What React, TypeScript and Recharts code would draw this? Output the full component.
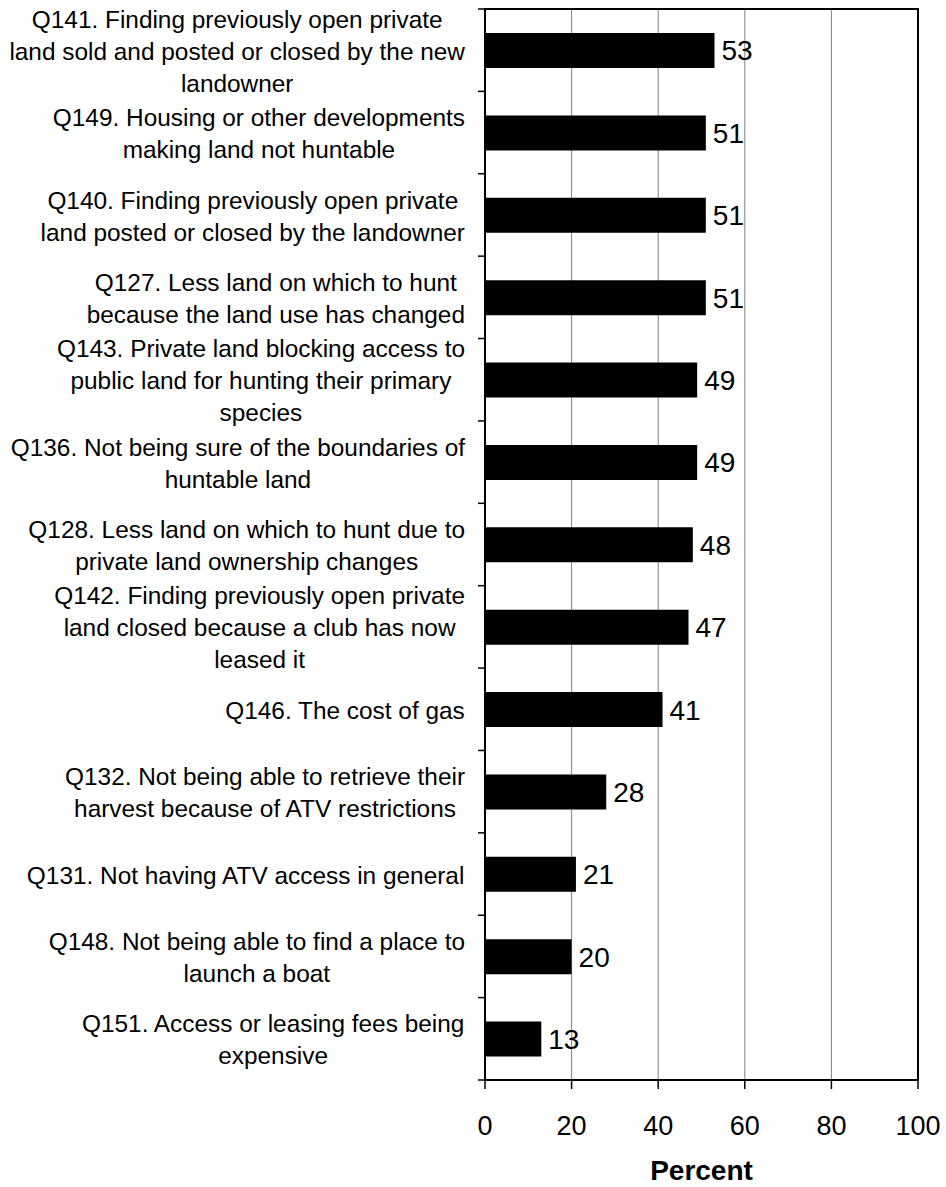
import { BarChart, Bar, XAxis, YAxis, CartesianGrid, LabelList, ReferenceArea } from "recharts"

const questions = [
  "Q141. Finding previously open private\nland sold and posted or closed by the new\nlandowner",
  "Q149. Housing or other developments\nmaking land not huntable",
  "Q140. Finding previously open private\nland posted or closed by the landowner",
  "Q127. Less land on which to hunt\nbecause the land use has changed",
  "Q143. Private land blocking access to\npublic land for hunting their primary\nspecies",
  "Q136. Not being sure of the boundaries of\nhuntable land",
  "Q128. Less land on which to hunt due to\nprivate land ownership changes",
  "Q142. Finding previously open private\nland closed because a club has now\nleased it",
  "Q146. The cost of gas",
  "Q132. Not being able to retrieve their\nharvest because of ATV restrictions",
  "Q131. Not having ATV access in general",
  "Q148. Not being able to find a place to\nlaunch a boat",
  "Q151. Access or leasing fees being\nexpensive",
]
const percents = [53, 51, 51, 51, 49, 49, 48, 47, 41, 28, 21, 20, 13]
const xTicks = [0, 20, 40, 60, 80, 100]

const data = questions.map((question, i) => ({ question, pct: percents[i] }))

const FONT = '"Liberation Sans", Arial, sans-serif'
const TOP = 9
const AXIS_W = 485
const LABEL_RIGHT = 465
const LINE_H = 32
const CAT_FONT = 24.4

let ctx: CanvasRenderingContext2D | null = null
function measure(s: string) {
  if (!ctx) {
    ctx = document.createElement("canvas").getContext("2d")
    if (ctx) ctx.font = `${CAT_FONT}px ${FONT}`
  }
  return ctx ? ctx.measureText(s).width : s.length * CAT_FONT * 0.5
}

// multi-line label, block right-aligned, lines centred (Excel style)
function CategoryTick(props: any) {
  const { y, payload, index } = props
  const lines = String(payload.value).split("\n")
  const step = (y - TOP) / (index + 0.5)
  const w = Math.max(...lines.map(measure))
  const cx = LABEL_RIGHT - w / 2
  const startY = y - ((lines.length - 1) * LINE_H) / 2 + 1
  return (
    <g>
      <line x1={AXIS_W - 7} x2={AXIS_W} y1={y - step / 2} y2={y - step / 2} stroke="#000" strokeWidth={1.5} />
      {index === questions.length - 1 && (
        <line x1={AXIS_W - 7} x2={AXIS_W} y1={y + step / 2} y2={y + step / 2} stroke="#000" strokeWidth={1.5} />
      )}
      <text textAnchor="middle" fontSize={CAT_FONT} fill="#000" fontFamily={FONT}>
        {lines.map((l, i) => (
          <tspan key={i} x={cx} y={startY + i * LINE_H} dy="0.35em">
            {l}
          </tspan>
        ))}
      </text>
    </g>
  )
}

export default function App() {
  return (
    <div style={{ position: "absolute", left: 0, top: 0, width: 946, height: 1187, background: "#fff", fontFamily: FONT }}>
      <BarChart
        width={946}
        height={1187}
        data={data}
        layout="vertical"
        margin={{ top: TOP, right: 28, left: 0, bottom: 1 }}
        barCategoryGap={0}
      >
        <CartesianGrid horizontal={false} stroke="#808080" strokeWidth={1} />
        <ReferenceArea x1={0} x2={100} fill="none" stroke="#000" strokeWidth={2} fillOpacity={0} ifOverflow="visible" />
        <XAxis
          type="number"
          domain={[0, 100]}
          ticks={xTicks}
          height={106}
          tickSize={9}
          tickMargin={27}
          tick={{ fill: "#000", fontSize: 27, fontFamily: FONT }}
          tickLine={{ stroke: "#000", strokeWidth: 1.5 }}
          axisLine={{ stroke: "#000", strokeWidth: 2 }}
          label={{ value: "Percent", position: "insideBottom", offset: 6, fontSize: 28, fontWeight: "bold", fill: "#000", fontFamily: FONT }}
        />
        <YAxis
          type="category"
          dataKey="question"
          width={AXIS_W}
          interval={0}
          tickLine={false}
          tick={<CategoryTick />}
          axisLine={{ stroke: "#000", strokeWidth: 2 }}
        />
        <Bar dataKey="pct" fill="#000" barSize={35} isAnimationActive={false}>
          <LabelList dataKey="pct" position="right" offset={7} fontSize={28} fill="#000" fontFamily={FONT} />
        </Bar>
      </BarChart>
    </div>
  )
}
